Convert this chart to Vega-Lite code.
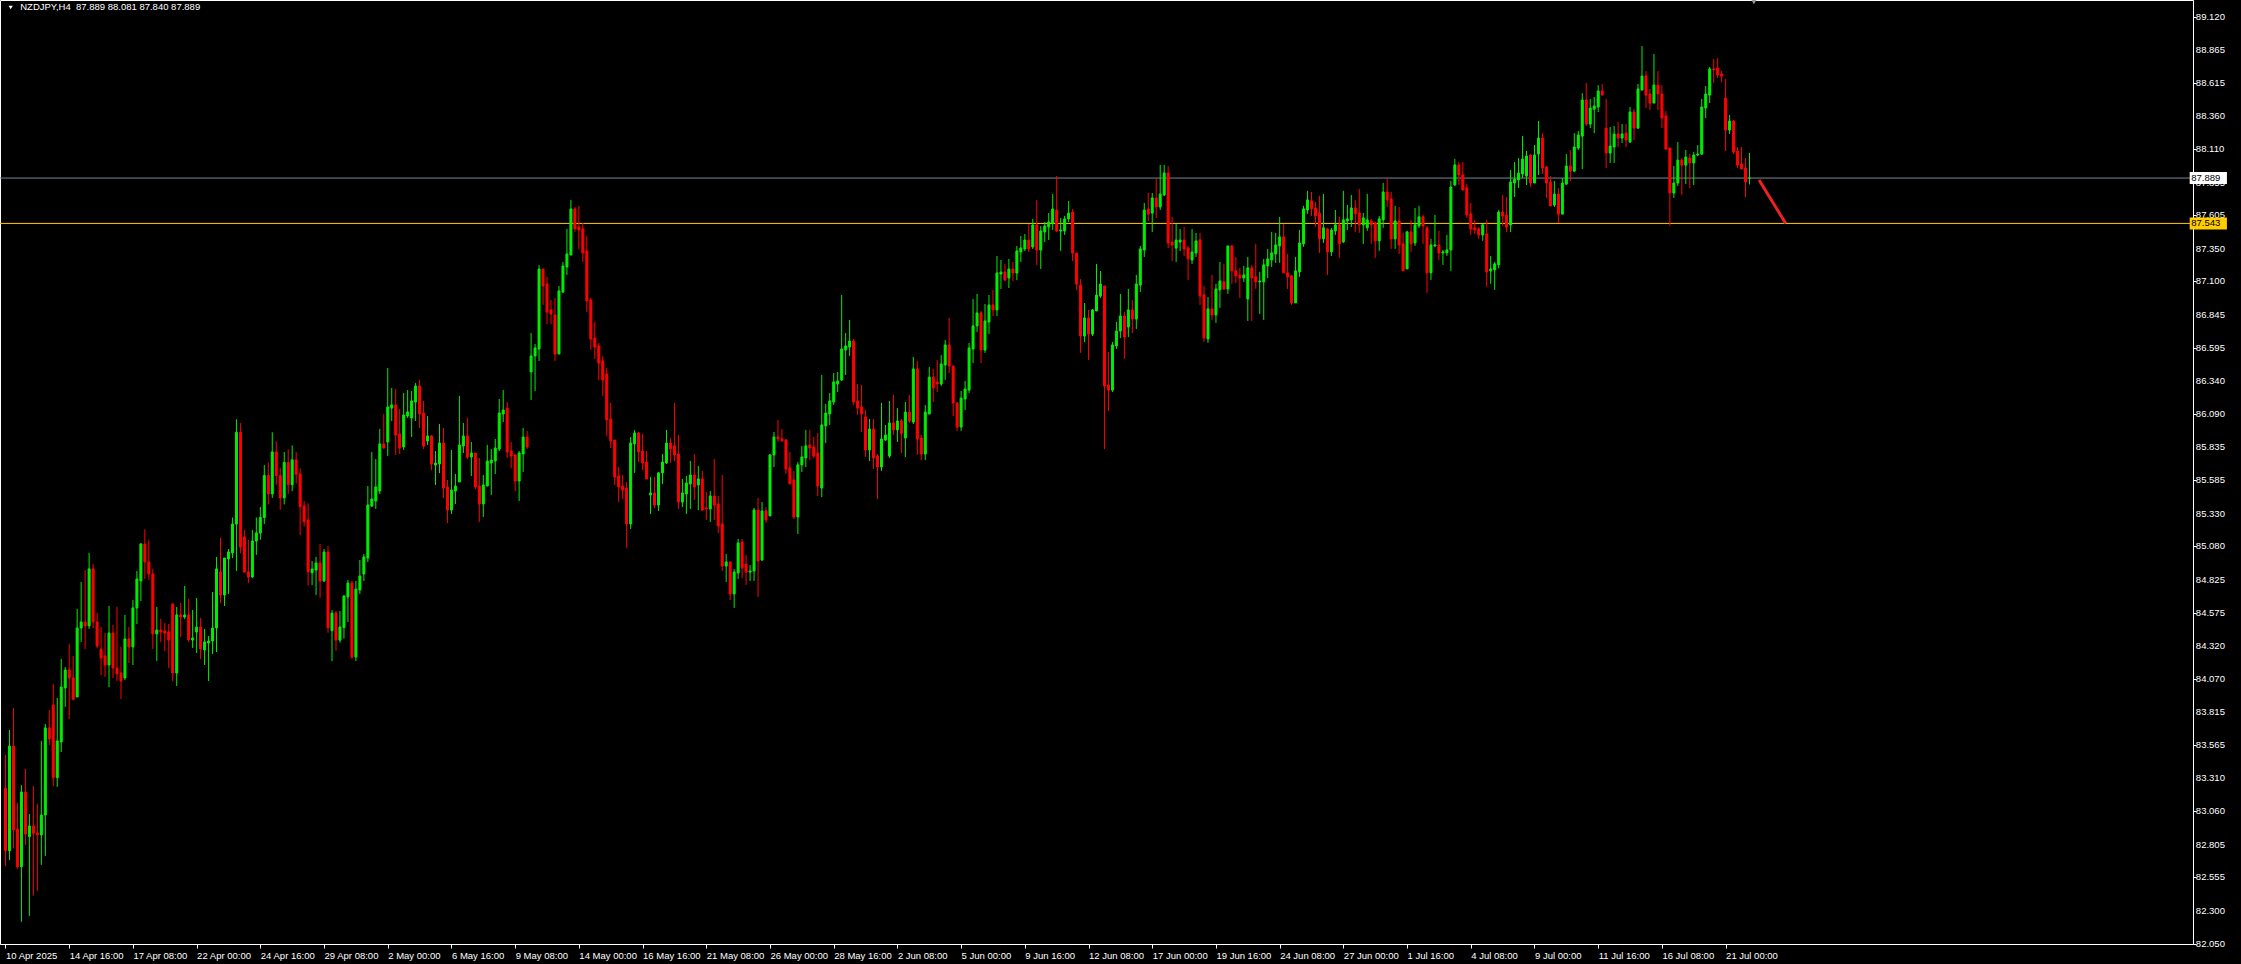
{
"$schema": "https://vega.github.io/schema/vega-lite/v6.json",
"width": 2193,
"height": 944,
"autosize": {"type": "none"},
"padding": {"left": 0, "top": 0, "right": 48, "bottom": 20},
"background": "#000000",
"config": {"view": {"stroke": "#ffffff", "strokeWidth": 1}, "axis": {"grid": false, "domainColor": "#ffffff", "tickColor": "#ffffff", "labelColor": "#ffffff", "labelFont": "Liberation Sans", "labelFontSize": 9.5, "title": null}},
"datasets": {
"candles": [
{"i":0,"o":83.235,"h":83.489,"l":82.642,"c":82.759},
{"i":1,"o":82.759,"h":83.679,"l":82.688,"c":83.557},
{"i":2,"o":83.557,"h":83.847,"l":82.777,"c":82.917},
{"i":3,"o":82.924,"h":83.120,"l":82.622,"c":82.637},
{"i":4,"o":82.637,"h":83.257,"l":82.217,"c":83.206},
{"i":5,"o":83.206,"h":83.382,"l":82.802,"c":82.886},
{"i":6,"o":82.866,"h":83.039,"l":82.261,"c":82.947},
{"i":7,"o":82.947,"h":83.252,"l":82.416,"c":82.891},
{"i":8,"o":82.894,"h":83.115,"l":82.451,"c":82.879},
{"i":9,"o":82.879,"h":83.596,"l":82.650,"c":83.031},
{"i":10,"o":83.031,"h":83.725,"l":82.718,"c":83.695},
{"i":11,"o":83.695,"h":83.832,"l":83.565,"c":83.611},
{"i":12,"o":83.870,"h":84.030,"l":83.252,"c":83.316},
{"i":13,"o":83.316,"h":83.924,"l":83.245,"c":83.596},
{"i":14,"o":83.588,"h":84.221,"l":83.512,"c":84.007},
{"i":15,"o":84.000,"h":84.160,"l":83.855,"c":84.137},
{"i":16,"o":84.137,"h":84.335,"l":83.763,"c":84.076},
{"i":17,"o":84.076,"h":84.244,"l":83.908,"c":83.913},
{"i":18,"o":83.931,"h":84.602,"l":83.931,"c":84.457},
{"i":19,"o":84.457,"h":84.808,"l":84.351,"c":84.503},
{"i":20,"o":84.503,"h":84.900,"l":84.297,"c":84.473},
{"i":21,"o":84.473,"h":85.030,"l":84.450,"c":84.908},
{"i":22,"o":84.908,"h":84.946,"l":84.457,"c":84.503},
{"i":23,"o":84.503,"h":84.572,"l":84.305,"c":84.320},
{"i":24,"o":84.297,"h":84.465,"l":84.099,"c":84.229},
{"i":25,"o":84.244,"h":84.419,"l":84.084,"c":84.175},
{"i":26,"o":84.175,"h":84.625,"l":84.007,"c":84.419},
{"i":27,"o":84.419,"h":84.480,"l":84.076,"c":84.152},
{"i":28,"o":84.152,"h":84.618,"l":84.053,"c":84.107},
{"i":29,"o":84.114,"h":84.313,"l":83.916,"c":84.053},
{"i":30,"o":84.076,"h":84.557,"l":84.061,"c":84.374},
{"i":31,"o":84.374,"h":84.465,"l":84.190,"c":84.313},
{"i":32,"o":84.313,"h":84.671,"l":84.175,"c":84.610},
{"i":33,"o":84.610,"h":84.892,"l":84.488,"c":84.831},
{"i":34,"o":84.816,"h":85.106,"l":84.663,"c":85.098},
{"i":35,"o":85.098,"h":85.210,"l":84.831,"c":84.961},
{"i":36,"o":84.961,"h":85.129,"l":84.824,"c":84.869},
{"i":37,"o":84.869,"h":84.908,"l":84.297,"c":84.412},
{"i":38,"o":84.412,"h":84.618,"l":84.206,"c":84.442},
{"i":39,"o":84.442,"h":84.526,"l":84.351,"c":84.427},
{"i":40,"o":84.435,"h":84.496,"l":84.282,"c":84.419},
{"i":41,"o":84.427,"h":84.488,"l":84.152,"c":84.366},
{"i":42,"o":84.641,"h":84.641,"l":84.053,"c":84.114},
{"i":43,"o":84.114,"h":84.618,"l":84.015,"c":84.557},
{"i":44,"o":84.557,"h":84.648,"l":84.389,"c":84.541},
{"i":45,"o":84.541,"h":84.778,"l":84.526,"c":84.557},
{"i":46,"o":84.557,"h":84.679,"l":84.351,"c":84.366},
{"i":47,"o":84.366,"h":84.595,"l":84.305,"c":84.381},
{"i":48,"o":84.427,"h":84.686,"l":84.267,"c":84.465},
{"i":49,"o":84.465,"h":84.534,"l":84.221,"c":84.297},
{"i":50,"o":84.290,"h":84.450,"l":84.175,"c":84.351},
{"i":51,"o":84.343,"h":84.396,"l":84.053,"c":84.358},
{"i":52,"o":84.358,"h":84.732,"l":84.259,"c":84.457},
{"i":53,"o":84.457,"h":84.999,"l":84.274,"c":84.908},
{"i":54,"o":84.885,"h":85.144,"l":84.648,"c":84.709},
{"i":55,"o":84.709,"h":84.991,"l":84.625,"c":84.991},
{"i":56,"o":84.984,"h":85.060,"l":84.717,"c":85.037},
{"i":57,"o":85.030,"h":85.300,"l":84.990,"c":85.250},
{"i":58,"o":85.250,"h":86.050,"l":84.892,"c":85.950},
{"i":59,"o":85.950,"h":86.020,"l":85.027,"c":85.075},
{"i":60,"o":85.152,"h":85.205,"l":84.877,"c":84.885},
{"i":61,"o":84.885,"h":85.129,"l":84.801,"c":84.846},
{"i":62,"o":84.846,"h":85.205,"l":84.839,"c":85.121},
{"i":63,"o":85.121,"h":85.300,"l":85.015,"c":85.182},
{"i":64,"o":85.182,"h":85.380,"l":85.130,"c":85.300},
{"i":65,"o":85.300,"h":85.700,"l":85.250,"c":85.620},
{"i":66,"o":85.620,"h":85.720,"l":85.400,"c":85.480},
{"i":67,"o":85.480,"h":85.950,"l":85.450,"c":85.800},
{"i":68,"o":85.800,"h":85.880,"l":85.550,"c":85.620},
{"i":69,"o":85.620,"h":85.680,"l":85.360,"c":85.450},
{"i":70,"o":85.450,"h":85.800,"l":85.400,"c":85.720},
{"i":71,"o":85.720,"h":85.820,"l":85.480,"c":85.550},
{"i":72,"o":85.550,"h":85.850,"l":85.500,"c":85.740},
{"i":73,"o":85.740,"h":85.800,"l":85.560,"c":85.630},
{"i":74,"o":85.632,"h":85.675,"l":85.166,"c":85.383},
{"i":75,"o":85.388,"h":85.426,"l":85.230,"c":85.268},
{"i":76,"o":85.281,"h":85.408,"l":84.780,"c":84.887},
{"i":77,"o":84.879,"h":84.968,"l":84.785,"c":84.907},
{"i":78,"o":84.899,"h":84.999,"l":84.709,"c":84.953},
{"i":79,"o":84.953,"h":85.098,"l":84.688,"c":84.816},
{"i":80,"o":84.816,"h":85.060,"l":84.808,"c":85.037},
{"i":81,"o":85.037,"h":85.083,"l":84.421,"c":84.460},
{"i":82,"o":84.437,"h":84.594,"l":84.205,"c":84.571},
{"i":83,"o":84.571,"h":84.587,"l":84.282,"c":84.365},
{"i":84,"o":84.365,"h":84.587,"l":84.345,"c":84.465},
{"i":85,"o":84.460,"h":84.709,"l":84.376,"c":84.701},
{"i":86,"o":84.694,"h":84.823,"l":84.503,"c":84.800},
{"i":87,"o":84.800,"h":84.816,"l":84.221,"c":84.236},
{"i":88,"o":84.236,"h":84.816,"l":84.205,"c":84.754},
{"i":89,"o":84.747,"h":84.976,"l":84.716,"c":84.854},
{"i":90,"o":84.869,"h":85.021,"l":84.816,"c":84.999},
{"i":91,"o":84.991,"h":85.540,"l":84.960,"c":85.395},
{"i":92,"o":85.388,"h":85.799,"l":85.380,"c":85.441},
{"i":93,"o":85.426,"h":85.746,"l":85.365,"c":85.533},
{"i":94,"o":85.502,"h":85.975,"l":85.479,"c":85.861},
{"i":95,"o":85.861,"h":86.089,"l":85.822,"c":85.830},
{"i":96,"o":85.876,"h":86.440,"l":85.769,"c":86.143},
{"i":97,"o":86.135,"h":86.288,"l":86.036,"c":86.158},
{"i":98,"o":86.158,"h":86.280,"l":85.777,"c":85.929},
{"i":99,"o":85.937,"h":86.128,"l":85.784,"c":85.830},
{"i":100,"o":85.838,"h":86.250,"l":85.815,"c":86.082},
{"i":101,"o":86.074,"h":86.272,"l":86.059,"c":86.105},
{"i":102,"o":86.059,"h":86.265,"l":85.914,"c":86.189},
{"i":103,"o":86.181,"h":86.326,"l":86.036,"c":86.303},
{"i":104,"o":86.303,"h":86.349,"l":85.983,"c":86.089},
{"i":105,"o":86.097,"h":86.189,"l":85.822,"c":85.845},
{"i":106,"o":85.883,"h":86.074,"l":85.853,"c":85.922},
{"i":107,"o":85.922,"h":85.929,"l":85.662,"c":85.708},
{"i":108,"o":85.700,"h":85.807,"l":85.548,"c":85.716},
{"i":109,"o":85.708,"h":86.013,"l":85.639,"c":85.868},
{"i":110,"o":85.868,"h":85.983,"l":85.449,"c":85.525},
{"i":111,"o":85.533,"h":85.586,"l":85.258,"c":85.357},
{"i":112,"o":85.357,"h":85.815,"l":85.327,"c":85.510},
{"i":113,"o":85.502,"h":85.632,"l":85.403,"c":85.540},
{"i":114,"o":85.571,"h":86.227,"l":85.571,"c":85.853},
{"i":115,"o":85.845,"h":86.021,"l":85.792,"c":85.922},
{"i":116,"o":85.922,"h":86.059,"l":85.746,"c":85.761},
{"i":117,"o":85.761,"h":85.876,"l":85.616,"c":85.792},
{"i":118,"o":85.792,"h":85.792,"l":85.517,"c":85.533},
{"i":119,"o":85.540,"h":85.754,"l":85.266,"c":85.403},
{"i":120,"o":85.403,"h":85.624,"l":85.304,"c":85.548},
{"i":121,"o":85.540,"h":85.853,"l":85.540,"c":85.731},
{"i":122,"o":85.716,"h":85.822,"l":85.472,"c":85.738},
{"i":123,"o":85.731,"h":85.899,"l":85.632,"c":85.830},
{"i":124,"o":85.822,"h":86.204,"l":85.807,"c":86.097},
{"i":125,"o":86.089,"h":86.272,"l":86.028,"c":86.120},
{"i":126,"o":86.135,"h":86.181,"l":85.754,"c":85.799},
{"i":127,"o":85.807,"h":85.876,"l":85.677,"c":85.769},
{"i":128,"o":85.777,"h":85.784,"l":85.502,"c":85.578},
{"i":129,"o":85.578,"h":85.807,"l":85.426,"c":85.792},
{"i":130,"o":85.784,"h":85.983,"l":85.647,"c":85.914},
{"i":131,"o":85.914,"h":85.960,"l":85.822,"c":85.838},
{"i":132,"o":86.410,"h":86.707,"l":86.196,"c":86.532},
{"i":133,"o":86.532,"h":86.623,"l":86.265,"c":86.593},
{"i":134,"o":86.585,"h":87.226,"l":86.494,"c":87.195},
{"i":135,"o":87.195,"h":87.195,"l":86.921,"c":87.066},
{"i":136,"o":87.081,"h":87.134,"l":86.776,"c":86.867},
{"i":137,"o":86.883,"h":86.959,"l":86.776,"c":86.852},
{"i":138,"o":86.845,"h":86.974,"l":86.494,"c":86.547},
{"i":139,"o":86.547,"h":87.066,"l":86.547,"c":87.028},
{"i":140,"o":87.020,"h":87.249,"l":87.012,"c":87.218},
{"i":141,"o":87.211,"h":87.501,"l":87.150,"c":87.310},
{"i":142,"o":87.302,"h":87.722,"l":87.302,"c":87.653},
{"i":143,"o":87.653,"h":87.668,"l":87.478,"c":87.501},
{"i":144,"o":87.516,"h":87.676,"l":87.348,"c":87.493},
{"i":145,"o":87.501,"h":87.546,"l":87.249,"c":87.317},
{"i":146,"o":87.333,"h":87.447,"l":86.867,"c":86.951},
{"i":147,"o":86.959,"h":86.974,"l":86.578,"c":86.661},
{"i":148,"o":86.669,"h":86.791,"l":86.509,"c":86.600},
{"i":149,"o":86.608,"h":86.631,"l":86.349,"c":86.478},
{"i":150,"o":86.494,"h":86.532,"l":86.227,"c":86.349},
{"i":151,"o":86.395,"h":86.440,"l":85.922,"c":86.044},
{"i":152,"o":86.051,"h":86.174,"l":85.830,"c":85.884},
{"i":153,"o":85.891,"h":85.891,"l":85.548,"c":85.609},
{"i":154,"o":85.617,"h":85.685,"l":85.418,"c":85.533},
{"i":155,"o":85.540,"h":85.624,"l":85.441,"c":85.510},
{"i":156,"o":85.525,"h":85.571,"l":85.067,"c":85.251},
{"i":157,"o":85.251,"h":85.914,"l":85.212,"c":85.868},
{"i":158,"o":85.861,"h":85.968,"l":85.640,"c":85.945},
{"i":159,"o":85.945,"h":85.952,"l":85.723,"c":85.800},
{"i":160,"o":85.807,"h":85.937,"l":85.662,"c":85.716},
{"i":161,"o":85.723,"h":85.807,"l":85.594,"c":85.594},
{"i":162,"o":85.472,"h":85.609,"l":85.327,"c":85.487},
{"i":163,"o":85.487,"h":85.609,"l":85.373,"c":85.395},
{"i":164,"o":85.395,"h":85.647,"l":85.350,"c":85.640},
{"i":165,"o":85.640,"h":85.784,"l":85.556,"c":85.723},
{"i":166,"o":85.716,"h":85.968,"l":85.708,"c":85.868},
{"i":167,"o":85.868,"h":85.907,"l":85.716,"c":85.823},
{"i":168,"o":85.846,"h":86.174,"l":85.731,"c":85.777},
{"i":169,"o":85.784,"h":85.929,"l":85.365,"c":85.418},
{"i":170,"o":85.418,"h":85.594,"l":85.380,"c":85.487},
{"i":171,"o":85.479,"h":85.617,"l":85.327,"c":85.563},
{"i":172,"o":85.556,"h":85.731,"l":85.365,"c":85.624},
{"i":173,"o":85.624,"h":85.784,"l":85.434,"c":85.533},
{"i":174,"o":85.548,"h":85.693,"l":85.357,"c":85.594},
{"i":175,"o":85.594,"h":85.655,"l":85.350,"c":85.357},
{"i":176,"o":85.373,"h":85.495,"l":85.281,"c":85.365},
{"i":177,"o":85.365,"h":85.502,"l":85.266,"c":85.464},
{"i":178,"o":85.464,"h":85.746,"l":85.281,"c":85.395},
{"i":179,"o":85.403,"h":85.464,"l":85.182,"c":85.235},
{"i":180,"o":85.251,"h":85.624,"l":84.892,"c":84.930},
{"i":181,"o":84.930,"h":85.022,"l":84.808,"c":84.961},
{"i":182,"o":84.961,"h":84.961,"l":84.671,"c":84.717},
{"i":183,"o":84.717,"h":84.907,"l":84.610,"c":84.884},
{"i":184,"o":84.877,"h":85.136,"l":84.831,"c":85.106},
{"i":185,"o":85.113,"h":85.136,"l":84.839,"c":84.915},
{"i":186,"o":84.945,"h":85.014,"l":84.785,"c":84.884},
{"i":187,"o":84.884,"h":84.938,"l":84.816,"c":84.892},
{"i":188,"o":84.892,"h":85.373,"l":84.816,"c":85.357},
{"i":189,"o":85.357,"h":85.449,"l":84.694,"c":84.968},
{"i":190,"o":84.976,"h":85.418,"l":84.968,"c":85.350},
{"i":191,"o":85.350,"h":85.380,"l":85.258,"c":85.281},
{"i":192,"o":85.312,"h":85.784,"l":85.312,"c":85.777},
{"i":193,"o":85.777,"h":85.952,"l":85.685,"c":85.914},
{"i":194,"o":85.914,"h":86.044,"l":85.876,"c":85.899},
{"i":195,"o":85.899,"h":85.975,"l":85.884,"c":85.884},
{"i":196,"o":85.891,"h":85.899,"l":85.632,"c":85.670},
{"i":197,"o":85.678,"h":85.800,"l":85.556,"c":85.556},
{"i":198,"o":85.586,"h":85.655,"l":85.289,"c":85.304},
{"i":199,"o":85.304,"h":85.723,"l":85.174,"c":85.701},
{"i":200,"o":85.701,"h":85.846,"l":85.647,"c":85.762},
{"i":201,"o":85.754,"h":85.968,"l":85.685,"c":85.846},
{"i":202,"o":85.853,"h":85.968,"l":85.739,"c":85.830},
{"i":203,"o":85.838,"h":85.914,"l":85.754,"c":85.769},
{"i":204,"o":85.792,"h":85.945,"l":85.464,"c":85.540},
{"i":205,"o":85.525,"h":86.387,"l":85.456,"c":86.006},
{"i":206,"o":85.998,"h":86.166,"l":85.868,"c":86.097},
{"i":207,"o":86.090,"h":86.250,"l":86.006,"c":86.189},
{"i":208,"o":86.181,"h":86.402,"l":86.158,"c":86.334},
{"i":209,"o":86.318,"h":86.410,"l":86.257,"c":86.341},
{"i":210,"o":86.349,"h":86.997,"l":86.341,"c":86.585},
{"i":211,"o":86.578,"h":86.707,"l":86.387,"c":86.608},
{"i":212,"o":86.601,"h":86.807,"l":86.532,"c":86.646},
{"i":213,"o":86.646,"h":86.662,"l":86.158,"c":86.181},
{"i":214,"o":86.189,"h":86.318,"l":86.082,"c":86.135},
{"i":215,"o":86.143,"h":86.311,"l":85.952,"c":86.090},
{"i":216,"o":86.067,"h":86.120,"l":85.762,"c":85.815},
{"i":217,"o":85.815,"h":86.051,"l":85.731,"c":85.975},
{"i":218,"o":85.975,"h":86.051,"l":85.670,"c":85.754},
{"i":219,"o":85.769,"h":85.784,"l":85.441,"c":85.685},
{"i":220,"o":85.685,"h":86.174,"l":85.655,"c":85.899},
{"i":221,"o":85.891,"h":86.006,"l":85.884,"c":85.929},
{"i":222,"o":85.769,"h":86.189,"l":85.754,"c":86.021},
{"i":223,"o":86.021,"h":86.235,"l":85.929,"c":85.968},
{"i":224,"o":85.968,"h":86.135,"l":85.876,"c":86.036},
{"i":225,"o":86.038,"h":86.051,"l":85.792,"c":85.942},
{"i":226,"o":85.906,"h":86.181,"l":85.761,"c":86.104},
{"i":227,"o":86.104,"h":86.234,"l":86.021,"c":86.036},
{"i":228,"o":86.028,"h":86.524,"l":86.013,"c":86.433},
{"i":229,"o":86.433,"h":86.494,"l":85.777,"c":85.899},
{"i":230,"o":85.906,"h":85.929,"l":85.738,"c":85.784},
{"i":231,"o":85.784,"h":86.158,"l":85.738,"c":86.104},
{"i":232,"o":86.089,"h":86.448,"l":86.089,"c":86.371},
{"i":233,"o":86.371,"h":86.433,"l":86.181,"c":86.288},
{"i":234,"o":86.333,"h":86.501,"l":86.257,"c":86.318},
{"i":235,"o":86.318,"h":86.539,"l":86.303,"c":86.471},
{"i":236,"o":86.463,"h":86.654,"l":86.349,"c":86.616},
{"i":237,"o":86.616,"h":86.822,"l":86.402,"c":86.455},
{"i":238,"o":86.455,"h":86.455,"l":86.074,"c":86.173},
{"i":239,"o":86.173,"h":86.181,"l":85.960,"c":85.990},
{"i":240,"o":85.990,"h":86.265,"l":85.960,"c":86.211},
{"i":241,"o":86.204,"h":86.341,"l":86.120,"c":86.280},
{"i":242,"o":86.272,"h":86.631,"l":86.249,"c":86.593},
{"i":243,"o":86.585,"h":86.966,"l":86.478,"c":86.761},
{"i":244,"o":86.761,"h":87.005,"l":86.715,"c":86.860},
{"i":245,"o":86.860,"h":86.875,"l":86.478,"c":86.577},
{"i":246,"o":86.577,"h":86.928,"l":86.555,"c":86.799},
{"i":247,"o":86.791,"h":86.997,"l":86.699,"c":86.921},
{"i":248,"o":86.921,"h":87.035,"l":86.837,"c":86.883},
{"i":249,"o":86.883,"h":87.294,"l":86.837,"c":87.165},
{"i":250,"o":87.157,"h":87.264,"l":87.043,"c":87.172},
{"i":251,"o":87.172,"h":87.233,"l":87.104,"c":87.111},
{"i":252,"o":87.127,"h":87.272,"l":87.050,"c":87.195},
{"i":253,"o":87.195,"h":87.249,"l":87.104,"c":87.165},
{"i":254,"o":87.165,"h":87.371,"l":87.111,"c":87.333},
{"i":255,"o":87.325,"h":87.447,"l":87.249,"c":87.355},
{"i":256,"o":87.348,"h":87.462,"l":87.333,"c":87.416},
{"i":257,"o":87.416,"h":87.539,"l":87.325,"c":87.348},
{"i":258,"o":87.363,"h":87.577,"l":87.348,"c":87.531},
{"i":259,"o":87.531,"h":87.722,"l":87.226,"c":87.340},
{"i":260,"o":87.340,"h":87.523,"l":87.195,"c":87.485},
{"i":261,"o":87.478,"h":87.554,"l":87.401,"c":87.523},
{"i":262,"o":87.516,"h":87.622,"l":87.416,"c":87.554},
{"i":263,"o":87.546,"h":87.767,"l":87.493,"c":87.653},
{"i":264,"o":87.645,"h":87.905,"l":87.478,"c":87.485},
{"i":265,"o":87.485,"h":87.584,"l":87.333,"c":87.493},
{"i":266,"o":87.485,"h":87.600,"l":87.455,"c":87.577},
{"i":267,"o":87.577,"h":87.714,"l":87.554,"c":87.622},
{"i":268,"o":87.630,"h":87.653,"l":87.256,"c":87.317},
{"i":269,"o":87.317,"h":87.317,"l":87.035,"c":87.081},
{"i":270,"o":87.073,"h":87.119,"l":86.555,"c":86.684},
{"i":271,"o":86.684,"h":86.936,"l":86.638,"c":86.822},
{"i":272,"o":86.822,"h":86.883,"l":86.501,"c":86.699},
{"i":273,"o":86.699,"h":86.890,"l":86.684,"c":86.883},
{"i":274,"o":86.875,"h":87.233,"l":86.875,"c":86.997},
{"i":275,"o":86.989,"h":87.180,"l":86.974,"c":87.081},
{"i":276,"o":87.066,"h":87.066,"l":85.822,"c":86.303},
{"i":277,"o":86.310,"h":86.562,"l":86.112,"c":86.272},
{"i":278,"o":86.272,"h":86.638,"l":86.257,"c":86.616},
{"i":279,"o":86.608,"h":86.791,"l":86.585,"c":86.722},
{"i":280,"o":86.722,"h":87.005,"l":86.669,"c":86.837},
{"i":281,"o":86.837,"h":86.867,"l":86.509,"c":86.677},
{"i":282,"o":86.753,"h":87.043,"l":86.677,"c":86.883},
{"i":283,"o":86.883,"h":86.959,"l":86.707,"c":86.814},
{"i":284,"o":86.814,"h":87.150,"l":86.738,"c":87.081},
{"i":285,"o":87.073,"h":87.371,"l":87.020,"c":87.348},
{"i":286,"o":87.340,"h":87.699,"l":87.287,"c":87.645},
{"i":287,"o":87.653,"h":87.775,"l":87.561,"c":87.615},
{"i":288,"o":87.622,"h":87.775,"l":87.478,"c":87.737},
{"i":289,"o":87.737,"h":87.889,"l":87.584,"c":87.668},
{"i":290,"o":87.668,"h":87.989,"l":87.645,"c":87.767},
{"i":291,"o":87.760,"h":87.989,"l":87.752,"c":87.928},
{"i":292,"o":87.928,"h":87.981,"l":87.355,"c":87.394},
{"i":293,"o":87.401,"h":87.592,"l":87.256,"c":87.378},
{"i":294,"o":87.355,"h":87.539,"l":87.249,"c":87.416},
{"i":295,"o":87.401,"h":87.500,"l":87.333,"c":87.416},
{"i":296,"o":87.416,"h":87.516,"l":87.294,"c":87.348},
{"i":297,"o":87.355,"h":87.371,"l":87.111,"c":87.272},
{"i":298,"o":87.264,"h":87.500,"l":87.233,"c":87.325},
{"i":299,"o":87.317,"h":87.470,"l":87.287,"c":87.409},
{"i":300,"o":87.417,"h":87.471,"l":86.921,"c":86.990},
{"i":301,"o":86.998,"h":87.066,"l":86.639,"c":86.670},
{"i":302,"o":86.662,"h":86.982,"l":86.632,"c":86.891},
{"i":303,"o":86.891,"h":87.150,"l":86.807,"c":86.845},
{"i":304,"o":86.845,"h":87.082,"l":86.784,"c":87.043},
{"i":305,"o":87.036,"h":87.249,"l":86.899,"c":87.104},
{"i":306,"o":87.097,"h":87.234,"l":87.036,"c":87.043},
{"i":307,"o":87.043,"h":87.371,"l":87.005,"c":87.371},
{"i":308,"o":87.371,"h":87.379,"l":87.082,"c":87.181},
{"i":309,"o":87.181,"h":87.288,"l":87.089,"c":87.143},
{"i":310,"o":87.150,"h":87.204,"l":86.975,"c":87.127},
{"i":311,"o":87.127,"h":87.219,"l":87.097,"c":87.150},
{"i":312,"o":86.967,"h":87.288,"l":86.799,"c":87.204},
{"i":313,"o":87.204,"h":87.227,"l":86.799,"c":87.127},
{"i":314,"o":87.135,"h":87.387,"l":87.043,"c":87.097},
{"i":315,"o":87.097,"h":87.173,"l":86.853,"c":87.104},
{"i":316,"o":87.097,"h":87.272,"l":86.807,"c":87.227},
{"i":317,"o":87.219,"h":87.349,"l":87.127,"c":87.272},
{"i":318,"o":87.265,"h":87.478,"l":87.211,"c":87.318},
{"i":319,"o":87.310,"h":87.471,"l":87.242,"c":87.379},
{"i":320,"o":87.371,"h":87.593,"l":87.242,"c":87.440},
{"i":321,"o":87.440,"h":87.539,"l":87.166,"c":87.166},
{"i":322,"o":87.166,"h":87.310,"l":87.043,"c":87.135},
{"i":323,"o":87.143,"h":87.150,"l":86.921,"c":86.937},
{"i":324,"o":86.937,"h":87.288,"l":86.937,"c":87.181},
{"i":325,"o":87.173,"h":87.493,"l":87.135,"c":87.394},
{"i":326,"o":87.387,"h":87.677,"l":87.364,"c":87.654},
{"i":327,"o":87.646,"h":87.791,"l":87.616,"c":87.722},
{"i":328,"o":87.715,"h":87.783,"l":87.600,"c":87.654},
{"i":329,"o":87.661,"h":87.707,"l":87.516,"c":87.600},
{"i":330,"o":87.623,"h":87.753,"l":87.318,"c":87.425},
{"i":331,"o":87.425,"h":87.768,"l":87.394,"c":87.509},
{"i":332,"o":87.501,"h":87.509,"l":87.150,"c":87.326},
{"i":333,"o":87.326,"h":87.509,"l":87.295,"c":87.493},
{"i":334,"o":87.486,"h":87.646,"l":87.455,"c":87.532},
{"i":335,"o":87.532,"h":87.593,"l":87.280,"c":87.387},
{"i":336,"o":87.402,"h":87.791,"l":87.394,"c":87.570},
{"i":337,"o":87.562,"h":87.684,"l":87.493,"c":87.577},
{"i":338,"o":87.570,"h":87.760,"l":87.516,"c":87.661},
{"i":339,"o":87.661,"h":87.722,"l":87.478,"c":87.616},
{"i":340,"o":87.623,"h":87.806,"l":87.471,"c":87.532},
{"i":341,"o":87.532,"h":87.623,"l":87.387,"c":87.585},
{"i":342,"o":87.509,"h":87.768,"l":87.486,"c":87.570},
{"i":343,"o":87.562,"h":87.577,"l":87.387,"c":87.532},
{"i":344,"o":87.547,"h":87.555,"l":87.280,"c":87.410},
{"i":345,"o":87.410,"h":87.600,"l":87.333,"c":87.577},
{"i":346,"o":87.570,"h":87.852,"l":87.509,"c":87.783},
{"i":347,"o":87.783,"h":87.883,"l":87.669,"c":87.722},
{"i":348,"o":87.730,"h":87.783,"l":87.349,"c":87.425},
{"i":349,"o":87.425,"h":87.677,"l":87.349,"c":87.562},
{"i":350,"o":87.562,"h":87.669,"l":87.310,"c":87.379},
{"i":351,"o":87.387,"h":87.471,"l":87.181,"c":87.181},
{"i":352,"o":87.196,"h":87.486,"l":87.196,"c":87.478},
{"i":353,"o":87.478,"h":87.570,"l":87.326,"c":87.387},
{"i":354,"o":87.394,"h":87.661,"l":87.371,"c":87.532},
{"i":355,"o":87.524,"h":87.677,"l":87.509,"c":87.593},
{"i":356,"o":87.593,"h":87.608,"l":87.387,"c":87.524},
{"i":357,"o":87.509,"h":87.524,"l":87.013,"c":87.166},
{"i":358,"o":87.166,"h":87.425,"l":87.112,"c":87.379},
{"i":359,"o":87.371,"h":87.608,"l":87.364,"c":87.379},
{"i":360,"o":87.379,"h":87.486,"l":87.265,"c":87.318},
{"i":361,"o":87.318,"h":87.341,"l":87.227,"c":87.326},
{"i":362,"o":87.318,"h":87.455,"l":87.295,"c":87.341},
{"i":363,"o":87.341,"h":87.867,"l":87.181,"c":87.821},
{"i":364,"o":87.837,"h":88.035,"l":87.829,"c":87.989},
{"i":365,"o":87.989,"h":88.012,"l":87.837,"c":87.913},
{"i":366,"o":87.913,"h":88.012,"l":87.791,"c":87.799},
{"i":367,"o":87.814,"h":87.844,"l":87.585,"c":87.608},
{"i":368,"o":87.616,"h":87.699,"l":87.455,"c":87.501},
{"i":369,"o":87.509,"h":87.570,"l":87.463,"c":87.493},
{"i":370,"o":87.501,"h":87.516,"l":87.425,"c":87.455},
{"i":371,"o":87.455,"h":87.539,"l":87.410,"c":87.532},
{"i":372,"o":87.463,"h":87.570,"l":87.059,"c":87.173},
{"i":373,"o":87.181,"h":87.295,"l":87.082,"c":87.196},
{"i":374,"o":87.188,"h":87.249,"l":87.036,"c":87.234},
{"i":375,"o":87.227,"h":87.645,"l":87.200,"c":87.630},
{"i":376,"o":87.630,"h":87.759,"l":87.523,"c":87.599},
{"i":377,"o":87.607,"h":87.744,"l":87.477,"c":87.515},
{"i":378,"o":87.531,"h":87.950,"l":87.477,"c":87.859},
{"i":379,"o":87.851,"h":88.011,"l":87.744,"c":87.881},
{"i":380,"o":87.874,"h":88.042,"l":87.813,"c":87.927},
{"i":381,"o":87.920,"h":88.209,"l":87.889,"c":88.034},
{"i":382,"o":87.904,"h":88.095,"l":87.836,"c":88.057},
{"i":383,"o":88.065,"h":88.072,"l":87.820,"c":87.851},
{"i":384,"o":87.851,"h":88.141,"l":87.851,"c":88.065},
{"i":385,"o":88.072,"h":88.324,"l":87.912,"c":88.194},
{"i":386,"o":88.194,"h":88.232,"l":87.920,"c":87.965},
{"i":387,"o":87.973,"h":87.981,"l":87.737,"c":87.851},
{"i":388,"o":87.859,"h":87.904,"l":87.676,"c":87.676},
{"i":389,"o":87.683,"h":87.866,"l":87.668,"c":87.767},
{"i":390,"o":87.767,"h":87.813,"l":87.546,"c":87.614},
{"i":391,"o":87.614,"h":87.889,"l":87.614,"c":87.851},
{"i":392,"o":87.843,"h":88.072,"l":87.836,"c":87.981},
{"i":393,"o":87.981,"h":88.103,"l":87.866,"c":87.942},
{"i":394,"o":87.942,"h":88.232,"l":87.935,"c":88.126},
{"i":395,"o":88.118,"h":88.248,"l":88.103,"c":88.217},
{"i":396,"o":88.209,"h":88.537,"l":87.958,"c":88.484},
{"i":397,"o":88.484,"h":88.614,"l":88.286,"c":88.301},
{"i":398,"o":88.301,"h":88.492,"l":88.270,"c":88.423},
{"i":399,"o":88.415,"h":88.507,"l":88.232,"c":88.438},
{"i":400,"o":88.431,"h":88.598,"l":88.393,"c":88.553},
{"i":401,"o":88.553,"h":88.606,"l":88.522,"c":88.522},
{"i":402,"o":88.270,"h":88.492,"l":87.965,"c":88.080},
{"i":403,"o":88.080,"h":88.278,"l":88.004,"c":88.133},
{"i":404,"o":88.126,"h":88.286,"l":88.004,"c":88.225},
{"i":405,"o":88.225,"h":88.316,"l":88.126,"c":88.194},
{"i":406,"o":88.194,"h":88.301,"l":88.156,"c":88.225},
{"i":407,"o":88.232,"h":88.301,"l":88.126,"c":88.179},
{"i":408,"o":88.164,"h":88.431,"l":88.156,"c":88.393},
{"i":409,"o":88.393,"h":88.415,"l":88.179,"c":88.270},
{"i":410,"o":88.270,"h":88.606,"l":88.263,"c":88.568},
{"i":411,"o":88.560,"h":88.896,"l":88.560,"c":88.667},
{"i":412,"o":88.667,"h":88.705,"l":88.423,"c":88.522},
{"i":413,"o":88.530,"h":88.568,"l":88.408,"c":88.461},
{"i":414,"o":88.461,"h":88.835,"l":88.461,"c":88.598},
{"i":415,"o":88.598,"h":88.705,"l":88.408,"c":88.530},
{"i":416,"o":88.530,"h":88.598,"l":88.270,"c":88.347},
{"i":417,"o":88.362,"h":88.400,"l":88.103,"c":88.110},
{"i":418,"o":88.118,"h":88.118,"l":87.523,"c":87.775},
{"i":419,"o":87.775,"h":87.981,"l":87.737,"c":87.851},
{"i":420,"o":87.851,"h":88.164,"l":87.828,"c":88.026},
{"i":421,"o":88.026,"h":88.042,"l":87.759,"c":87.988},
{"i":422,"o":87.988,"h":88.103,"l":87.843,"c":88.049},
{"i":423,"o":88.042,"h":88.072,"l":87.813,"c":88.004},
{"i":424,"o":88.004,"h":88.087,"l":87.836,"c":88.065},
{"i":425,"o":88.065,"h":88.141,"l":88.057,"c":88.072},
{"i":426,"o":88.072,"h":88.492,"l":88.065,"c":88.431},
{"i":427,"o":88.423,"h":88.591,"l":88.347,"c":88.530},
{"i":428,"o":88.522,"h":88.736,"l":88.461,"c":88.721},
{"i":429,"o":88.721,"h":88.797,"l":88.614,"c":88.713},
{"i":430,"o":88.728,"h":88.804,"l":88.652,"c":88.675},
{"i":431,"o":88.682,"h":88.705,"l":88.621,"c":88.667},
{"i":432,"o":88.499,"h":88.644,"l":88.095,"c":88.255},
{"i":433,"o":88.255,"h":88.370,"l":88.225,"c":88.324},
{"i":434,"o":88.324,"h":88.331,"l":88.072,"c":88.087},
{"i":435,"o":88.095,"h":88.126,"l":87.965,"c":87.988},
{"i":436,"o":87.996,"h":88.126,"l":87.958,"c":87.958},
{"i":437,"o":87.965,"h":88.042,"l":87.744,"c":87.859},
{"i":438,"o":87.889,"h":88.081,"l":87.840,"c":87.889}
],
"levels": [
{"kind": "bid", "price": 87.889},
{"kind": "level", "price": 87.543}
],
"trend": [
{"i": 440.4, "price": 87.874},
{"i": 447.1, "price": 87.543}
],
"header": [
{"t": "NZDJPY,H4\u00a0 87.889 88.081 87.840 87.889"}
],
"yticks": [
{"v": 89.12}, {"v": 88.865}, {"v": 88.615}, {"v": 88.36}, {"v": 88.11}, {"v": 87.855}, {"v": 87.605}, {"v": 87.35}, {"v": 87.1}, {"v": 86.845}, {"v": 86.595}, {"v": 86.34}, {"v": 86.09}, {"v": 85.835}, {"v": 85.585}, {"v": 85.33}, {"v": 85.08}, {"v": 84.825}, {"v": 84.575}, {"v": 84.32}, {"v": 84.07}, {"v": 83.815}, {"v": 83.565}, {"v": 83.31}, {"v": 83.06}, {"v": 82.805}, {"v": 82.555}, {"v": 82.3}, {"v": 82.05}
]
},
"layer": [
{
"data": {"name": "levels"},
"mark": {"type": "rule", "strokeWidth": 1},
"encoding": {
"y": {"field": "price", "type": "quantitative", "scale": {"domain": [82.047, 89.247], "nice": false, "zero": false},
"axis": {"orient": "right", "values": [89.12, 88.865, 88.615, 88.36, 88.11, 87.855, 87.605, 87.35, 87.1, 86.845, 86.595, 86.34, 86.09, 85.835, 85.585, 85.33, 85.08, 84.825, 84.575, 84.32, 84.07, 83.815, 83.565, 83.31, 83.06, 82.805, 82.555, 82.3, 82.05], "labels": false, "tickSize": 3, "title": null}},
"color": {"condition": {"test": "datum.kind === 'bid'", "value": "#778899"}, "value": "#ffcc00"}
}
},
{
"data": {"name": "candles"},
"mark": {"type": "rule", "strokeWidth": 1},
"encoding": {
"x": {"field": "i", "type": "quantitative", "scale": {"domain": [-0.125, 548.125], "nice": false, "zero": false},
"axis": {"values": [0,16,32,48,64,80,96,112,128,144,160,176,192,208,224,240,256,272,288,304,320,336,352,368,384,400,416,432],
"labelExpr": "['10 Apr 2025','14 Apr 16:00','17 Apr 08:00','22 Apr 00:00','24 Apr 16:00','29 Apr 08:00','2 May 00:00','6 May 16:00','9 May 08:00','14 May 00:00','16 May 16:00','21 May 08:00','26 May 00:00','28 May 16:00','2 Jun 08:00','5 Jun 00:00','9 Jun 16:00','12 Jun 08:00','17 Jun 00:00','19 Jun 16:00','24 Jun 08:00','27 Jun 00:00','1 Jul 16:00','4 Jul 08:00','9 Jul 00:00','11 Jul 16:00','16 Jul 08:00','21 Jul 00:00'][round(datum.value/16)]",
"labelAlign": "left", "labelPadding": 2, "tickSize": 4, "labelOverlap": false, "labelFlush": false, "labelBound": false, "title": null}},
"y": {"field": "l", "type": "quantitative"},
"y2": {"field": "h"},
"color": {"condition": {"test": "datum.c >= datum.o", "value": "#00ee00"}, "value": "#ff0000"}
}
},
{
"data": {"name": "candles"},
"mark": {"type": "bar", "width": 2, "strokeWidth": 1},
"encoding": {
"x": {"field": "i", "type": "quantitative"},
"y": {"field": "o", "type": "quantitative"},
"y2": {"field": "c"},
"color": {"condition": {"test": "datum.c >= datum.o", "value": "#00ee00"}, "value": "#ff0000"},
"stroke": {"condition": {"test": "datum.c >= datum.o", "value": "#00ee00"}, "value": "#ff0000"}
}
},
{
"data": {"name": "trend"},
"mark": {"type": "line", "strokeWidth": 3, "color": "#ee2222"},
"encoding": {
"x": {"field": "i", "type": "quantitative"},
"y": {"field": "price", "type": "quantitative"}
}
},
{
"data": {"name": "yticks"},
"mark": {"type": "text", "align": "left", "baseline": "middle", "font": "Liberation Sans", "fontSize": 9.5, "color": "#ffffff"},
"encoding": {
"x": {"datum": 550.1},
"y": {"field": "v", "type": "quantitative"},
"text": {"field": "v", "type": "quantitative", "format": ".3f"}
}
},
{
"data": {"name": "levels"},
"mark": {"type": "rule", "strokeWidth": 12, "strokeCap": "butt"},
"encoding": {
"x": {"datum": 548.55},
"x2": {"datum": 557.9},
"y": {"field": "price", "type": "quantitative"},
"color": {"condition": {"test": "datum.kind === 'bid'", "value": "#ffffff"}, "value": "#ffcc00"}
}
},
{
"data": {"name": "levels"},
"mark": {"type": "text", "align": "left", "baseline": "middle", "font": "Liberation Sans", "fontSize": 9.5, "color": "#000000"},
"encoding": {
"x": {"datum": 548.95},
"y": {"field": "price", "type": "quantitative"},
"text": {"field": "price", "type": "quantitative", "format": ".3f"}
}
},
{
"data": {"name": "header"},
"mark": {"type": "text", "align": "left", "baseline": "middle", "font": "Liberation Sans", "fontSize": 9.5, "color": "#ffffff"},
"encoding": {
"x": {"datum": 3.7},
"y": {"datum": 89.19},
"text": {"field": "t"}
}
},
{
"data": {"name": "header"},
"mark": {"type": "point", "shape": "triangle-down", "filled": true, "size": 18, "color": "#ffffff", "opacity": 1},
"encoding": {
"x": {"datum": 1.3},
"y": {"datum": 89.19}
}
},
{
"data": {"name": "header"},
"mark": {"type": "point", "shape": "triangle-down", "filled": true, "size": 30, "color": "#9a9a9a", "opacity": 1},
"encoding": {
"x": {"datum": 439.1},
"y": {"datum": 89.232}
}
}
]
}
